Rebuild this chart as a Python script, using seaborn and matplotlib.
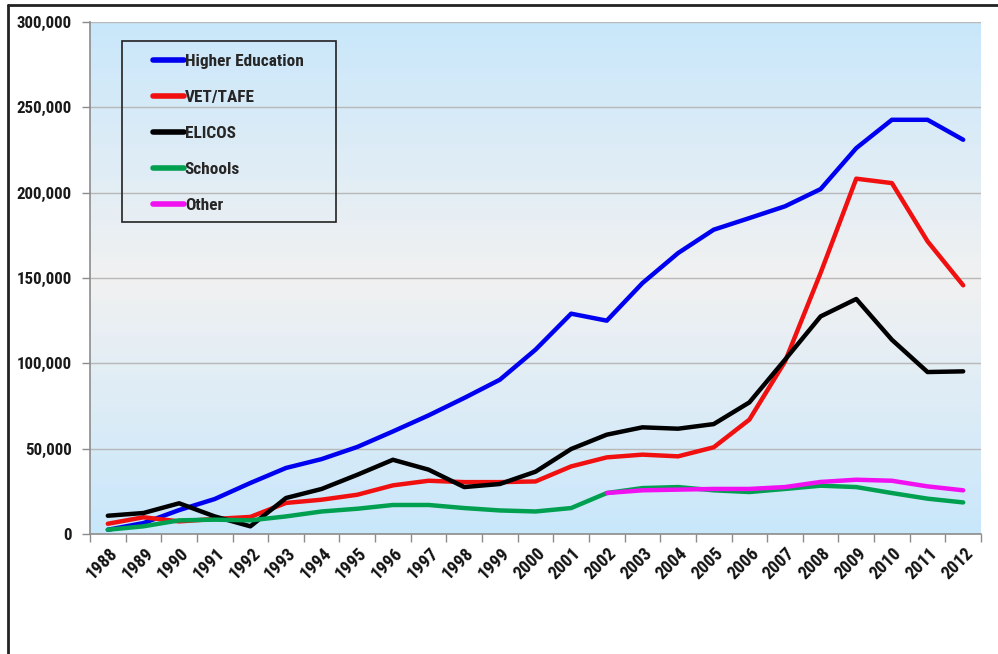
import numpy as np
import pandas as pd
import matplotlib
matplotlib.use("Agg")
import matplotlib.pyplot as plt
import matplotlib.transforms as mtransforms
from matplotlib.colors import LinearSegmentedColormap
from matplotlib.lines import Line2D
from matplotlib.patches import Rectangle
import seaborn as sns

years = list(range(1988, 2013))
higher_education = [2500, 6400, 14000, 20500, 29900, 38700, 43900, 51000, 60100, 69500, 79700, 90400,
                    108000, 129100, 125000, 147000, 164600, 178300, 185100, 192000, 202100, 226100,
                    242700, 242700, 231000]
vet_tafe = [6000, 9800, 7400, 8800, 10000, 18200, 20100, 23000, 28500, 31200, 30400, 30400,
            30800, 39600, 44900, 46500, 45500, 50800, 67000, 101000, 153000, 208200,
            205600, 171500, 145700]
elicos = [10700, 12300, 18000, 10300, 4500, 21100, 26400, 34700, 43500, 37700, 27500, 29300,
          36500, 49800, 58200, 62500, 61700, 64400, 77100, 102100, 127500, 137700,
          113800, 94900, 95300]
schools = [2500, 4500, 8000, 8400, 8000, 10300, 13200, 14800, 17000, 17000, 15200, 13800,
           13200, 15200, 24000, 26900, 27500, 25600, 24600, 26400, 28300, 27500,
           24000, 20700, 18500]
other = [np.nan] * 14 + [24000, 25600, 26000, 26400, 26400, 27500, 30500, 31800, 31200, 27900, 25600]

series_names = ["Higher Education", "VET/TAFE", "ELICOS", "Schools", "Other"]
series_vals = [higher_education, vet_tafe, elicos, schools, other]
colors = {"Higher Education": "#0000f0", "VET/TAFE": "#f01010", "ELICOS": "#000000",
          "Schools": "#00a050", "Other": "#f010f0"}

rows = []
for name, vals in zip(series_names, series_vals):
    for y, v in zip(years, vals):
        rows.append({"Year": y, "Students": v, "Sector": name})
df = pd.DataFrame(rows).dropna()

sns.set_style("white")
FONT = ["Roboto Condensed", "Liberation Sans", "DejaVu Sans"]
plt.rcParams["font.family"] = FONT

fig = plt.figure(figsize=(9.98, 6.54), dpi=100)
ax = fig.add_axes([90 / 998, 1 - 534 / 654, (981 - 90) / 998, (534 - 22) / 654])

# gradient background
cmap = LinearSegmentedColormap.from_list("bg", ["#c9e7fb", "#f1f1f1", "#c9e7fb"])
grad = np.linspace(0, 1, 256).reshape(-1, 1)
ax.imshow(grad, extent=[0, 1, 0, 1], transform=ax.transAxes, aspect="auto",
          cmap=cmap, zorder=-2)

sns.lineplot(data=df, x="Year", y="Students", hue="Sector", hue_order=series_names,
             palette=colors, linewidth=3.2, ax=ax, legend=False, sort=True,
             solid_capstyle="round", solid_joinstyle="round")

ax.set_xlim(1987.5, 2012.5)
ax.set_ylim(0, 300000)
ax.set_xlabel("")
ax.set_ylabel("")

# y axis
ax.set_yticks(range(0, 300001, 50000))
ax.set_yticklabels([f"{v:,}" for v in range(0, 300001, 50000)],
                   fontsize=12.2, fontweight="bold", family=FONT, color="#1a1a1a")
ax.yaxis.grid(True, color="#b8b8b8", linewidth=1.0, zorder=-1)
ax.set_axisbelow(True)
ax.tick_params(axis="y", which="major", length=6, width=1, color="#8c8c8c",
               direction="out", pad=7, left=True)

# x axis
ax.set_xticks(years)
ax.set_xticklabels([str(y) for y in years], rotation=45, ha="right", va="center",
                   rotation_mode="anchor", fontsize=13, fontweight="bold", family=FONT,
                   color="#111111")
ax.tick_params(axis="x", which="major", length=0, pad=12)
ax.set_xticks(np.arange(1987.5, 2013, 1.0), minor=True)
ax.tick_params(axis="x", which="minor", length=6, width=1, color="#8c8c8c",
               direction="out", bottom=True)
offset = mtransforms.ScaledTranslation(7 / 100, 0, fig.dpi_scale_trans)
for lbl in ax.get_xticklabels():
    lbl.set_transform(lbl.get_transform() + offset)

for s in ["top", "right"]:
    ax.spines[s].set_visible(False)
for s in ["left", "bottom"]:
    ax.spines[s].set_color("#8c8c8c")
    ax.spines[s].set_linewidth(1.2)

# legend
ax.add_patch(Rectangle((32 / 891, (534 - 222) / 512), 214 / 891, 181 / 512,
                       transform=ax.transAxes, fill=False, edgecolor="#222222",
                       linewidth=1.2, zorder=3))
handles = [Line2D([], [], color=colors[n], linewidth=4) for n in series_names]
leg = ax.legend(handles, series_names, loc="upper left",
                bbox_to_anchor=((153 - 90) / 891, (534 - 54) / 512),
                frameon=False, borderpad=0, borderaxespad=0, handlelength=1.8,
                handletextpad=0.05, labelspacing=1.21,
                prop={"family": FONT, "weight": "bold", "size": 12.4})

# outer frame lines
fig.add_artist(Line2D([8 / 998, 1], [1 - 5 / 654, 1 - 5 / 654], color="#222222",
                      linewidth=2, transform=fig.transFigure))
fig.add_artist(Line2D([8 / 998, 8 / 998], [0, 1 - 5 / 654], color="#222222",
                      linewidth=2, transform=fig.transFigure))

fig.savefig("out.png", dpi=100)
